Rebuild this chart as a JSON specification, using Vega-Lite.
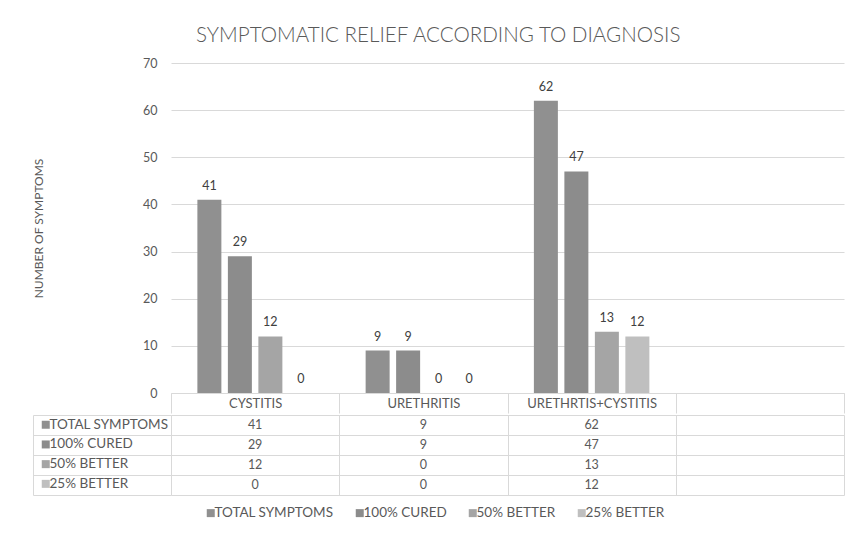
{
  "$schema": "https://vega.github.io/schema/vega-lite/v6.json",
  "background": "white",
  "padding": {"left": 32, "top": 25, "right": 0, "bottom": 0},
  "config": {
    "font": "Lato",
    "view": {"stroke": null},
    "axis": {"labelFont": "Lato", "titleFont": "Lato"},
    "legend": {"labelFont": "Lato"}
  },
  "title": {
    "text": "SYMPTOMATIC RELIEF ACCORDING TO DIAGNOSIS",
    "anchor": "middle",
    "frame": "bounds",
    "font": "Lato",
    "fontSize": 20.6,
    "fontWeight": 300,
    "color": "#595959",
    "offset": 10.5
  },
  "datasets": {
    "rows": [
      {"diagnosis": "CYSTITIS", "series": "TOTAL SYMPTOMS", "value": 41},
      {"diagnosis": "CYSTITIS", "series": "100% CURED", "value": 29},
      {"diagnosis": "CYSTITIS", "series": "50% BETTER", "value": 12},
      {"diagnosis": "CYSTITIS", "series": "25% BETTER", "value": 0},
      {"diagnosis": "URETHRITIS", "series": "TOTAL SYMPTOMS", "value": 9},
      {"diagnosis": "URETHRITIS", "series": "100% CURED", "value": 9},
      {"diagnosis": "URETHRITIS", "series": "50% BETTER", "value": 0},
      {"diagnosis": "URETHRITIS", "series": "25% BETTER", "value": 0},
      {"diagnosis": "URETHRTIS+CYSTITIS", "series": "TOTAL SYMPTOMS", "value": 62},
      {"diagnosis": "URETHRTIS+CYSTITIS", "series": "100% CURED", "value": 47},
      {"diagnosis": "URETHRTIS+CYSTITIS", "series": "50% BETTER", "value": 13},
      {"diagnosis": "URETHRTIS+CYSTITIS", "series": "25% BETTER", "value": 12}
    ]
  },
  "resolve": {
    "scale": {"color": "independent", "x": "independent", "y": "independent"},
    "legend": {"color": "independent"}
  },
  "spacing": 0,
  "vconcat": [
    {
      "width": 673,
      "height": 330,
      "data": {"name": "rows"},
      "encoding": {
        "x": {
          "field": "diagnosis", "type": "nominal",
          "scale": {"domain": ["CYSTITIS", "URETHRITIS", "URETHRTIS+CYSTITIS", ""], "paddingInner": 0, "paddingOuter": 0},
          "axis": {
            "title": null, "orient": "bottom", "labelAngle": 0,
            "domainColor": "#d9d9d9", "tickColor": "#d9d9d9", "tickSize": 20, "tickBand": "extent",
            "labelPadding": -10, "labelBaseline": "middle", "labelFontSize": 13, "labelColor": "#595959"
          }
        },
        "xOffset": {
          "field": "series", "type": "nominal",
          "scale": {"domain": ["TOTAL SYMPTOMS", "100% CURED", "50% BETTER", "25% BETTER"], "paddingInner": 0.213, "paddingOuter": 0.865}
        },
        "y": {
          "field": "value", "type": "quantitative",
          "scale": {"domain": [0, 70]},
          "axis": {
            "title": "NUMBER OF SYMPTOMS", "values": [0, 10, 20, 30, 40, 50, 60, 70],
            "grid": true, "gridColor": "#d9d9d9", "domain": false, "ticks": false,
            "labelPadding": 14, "labelFontSize": 12.5, "labelColor": "#595959",
            "titleFontSize": 12, "titleFontWeight": "normal", "titleColor": "#595959",
            "titleX": -133, "titleBaseline": "middle"
          }
        }
      },
      "layer": [
        {
          "mark": {"type": "bar"},
          "encoding": {
            "color": {
              "field": "series", "type": "nominal",
              "scale": {"domain": ["TOTAL SYMPTOMS", "100% CURED", "50% BETTER", "25% BETTER"], "range": ["#909090", "#8c8c8c", "#a5a5a5", "#bfbfbf"]},
              "legend": null
            }
          }
        },
        {
          "mark": {"type": "text", "dy": -10, "baseline": "alphabetic", "fontSize": 12.5, "color": "#404040"},
          "encoding": {"text": {"field": "value", "type": "quantitative"}}
        }
      ]
    },
    {
      "width": 673,
      "height": 80,
      "data": {"name": "rows"},
      "resolve": {"scale": {"color": "independent"}, "legend": {"color": "independent"}},
      "encoding": {
        "y": {
          "field": "series", "type": "nominal",
          "scale": {"domain": ["TOTAL SYMPTOMS", "100% CURED", "50% BETTER", "25% BETTER"], "paddingInner": 0, "paddingOuter": 0},
          "axis": {
            "title": null, "orient": "left", "offset": 138, "labels": false,
            "domainColor": "#d9d9d9", "tickColor": "#d9d9d9", "tickSize": -138, "tickBand": "extent",
            "grid": true, "gridColor": "#d9d9d9"
          }
        }
      },
      "layer": [
        {
          "mark": {"type": "text", "fontSize": 12.5, "color": "#595959"},
          "encoding": {
            "x": {
              "field": "diagnosis", "type": "nominal",
              "scale": {"domain": ["CYSTITIS", "URETHRITIS", "URETHRTIS+CYSTITIS", ""], "paddingInner": 0, "paddingOuter": 0},
              "axis": {"title": null, "labels": false, "ticks": false, "domain": false, "grid": true, "gridColor": "#d9d9d9", "tickBand": "extent"}
            },
            "text": {"field": "value", "type": "quantitative"}
          }
        },
        {
          "mark": {"type": "square", "opacity": 0},
          "encoding": {
            "color": {
              "field": "series", "type": "nominal",
              "scale": {"domain": ["TOTAL SYMPTOMS", "100% CURED", "50% BETTER", "25% BETTER"], "range": ["#909090", "#8c8c8c", "#a5a5a5", "#bfbfbf"]},
              "legend": {
                "orient": "none", "direction": "vertical", "legendX": -132, "legendY": 3,
                "title": null, "symbolType": "square", "symbolSize": 64, "symbolStrokeWidth": 0, "symbolOpacity": 1,
                "labelFontSize": 13.5, "labelColor": "#595959", "rowPadding": 4.7, "labelOffset": -3, "padding": 0
              }
            }
          }
        },
        {
          "mark": {"type": "square", "opacity": 0},
          "encoding": {
            "color": {
              "field": "series", "type": "nominal",
              "scale": {"domain": ["TOTAL SYMPTOMS", "100% CURED", "50% BETTER", "25% BETTER"], "range": ["#909090", "#8c8c8c", "#a5a5a5", "#bfbfbf"]},
              "legend": {
                "orient": "none", "direction": "horizontal", "legendX": 33, "legendY": 91,
                "title": null, "symbolType": "square", "symbolSize": 64, "symbolStrokeWidth": 0, "symbolOpacity": 1,
                "labelFontSize": 13.5, "labelColor": "#595959", "columnPadding": 19, "labelOffset": -3, "padding": 0
              }
            }
          }
        }
      ]
    }
  ]
}
